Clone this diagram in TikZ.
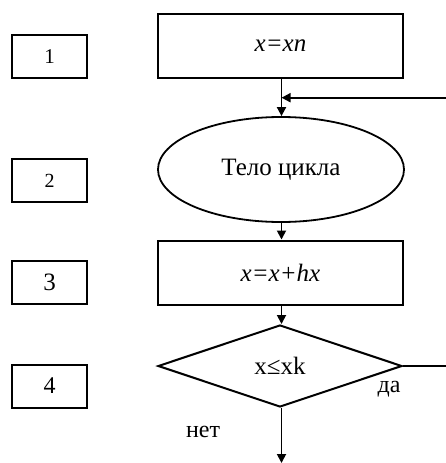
\documentclass[tikz,border=0pt]{standalone}
\usepackage{fontspec}
\setmainfont{Liberation Serif}
\usetikzlibrary{shapes.geometric,arrows.meta}
\tikzset{
  blk/.style={draw, line width=2pt, minimum width=245pt, minimum height=64pt, inner sep=0pt, font=\fontsize{25}{30}\selectfont\itshape},
  numbox/.style={draw, line width=2pt, minimum width=75pt, minimum height=43pt, inner sep=0pt},
  body/.style={draw, ellipse, line width=1.8pt, minimum width=246pt, minimum height=105pt, inner sep=0pt, font=\fontsize{25}{30}\selectfont},
  cond/.style={draw, diamond, line width=2pt, minimum width=244pt, minimum height=82pt, inner sep=0pt, font=\fontsize{25}{30}\selectfont},
  conn/.style={line width=1.8pt},
  arr/.style={conn, -{Triangle[length=9pt,width=9pt]}},
  lbl/.style={font=\fontsize{24}{28}\selectfont, inner sep=0pt}
}
\begin{document}
\begin{tikzpicture}[x=1pt,y=-1pt]
\useasboundingbox (0,0) rectangle (445,463);
% labels on the left
\node[numbox, font=\fontsize{21}{25}\selectfont] (n1) at (49.5,56.5) {1};
\node[numbox, font=\fontsize{20}{24}\selectfont] (n2) at (49.5,180.5) {2};
\node[numbox, font=\fontsize{25}{30}\selectfont] (n3) at (49.5,282.5) {3};
\node[numbox, font=\fontsize{24}{28}\selectfont] (n4) at (49.5,386) {4};
% main flow
\node[blk] (init) at (280.5,46) {x=xn};
\node[body] (loop) at (281,169.5) {Тело цикла};
\node[blk] (step) at (280.5,272.5) {x=x+hx};
\node[cond] (test) at (280,366) {x≤xk};
% connectors
\coordinate (join) at (281.5,97.7);
\coordinate (back) at (446,97.7);
\coordinate (yesend) at (446,366);
\coordinate (exit) at (281.5,463);
\draw[arr] (init.south -| join) -- (loop.north -| join);
\draw[arr] (back) -- (join);
\draw[arr] (loop.south -| join) -- (step.north -| join);
\draw[arr] (step.south -| join) -- (test.north -| join);
\draw[conn] (test.east) -- (yesend);
\draw[arr] (test.south -| join) -- (exit);
\node[lbl] (yes) at (389,389) {да};
\node[lbl] (no) at (203,432) {нет};
\end{tikzpicture}
\end{document}
